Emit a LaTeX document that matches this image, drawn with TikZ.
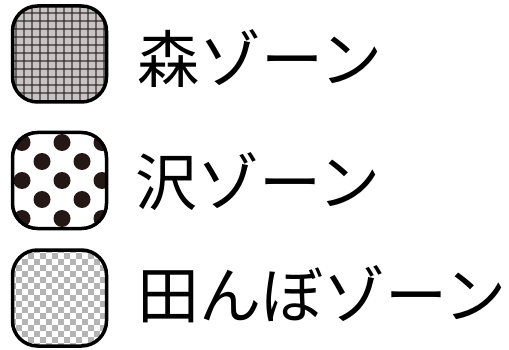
\documentclass[tikz,border=0pt]{standalone}
\usepackage{fontspec}
\newfontfamily\jp{Noto Sans CJK JP}
\definecolor{inkdark}{HTML}{231815}
\definecolor{plaidbg}{HTML}{C6C4C4}
\definecolor{checkgray}{HTML}{B4B4B4}
\begin{document}
\begin{tikzpicture}[x=1pt,y=-1pt,
  zonebox/.style={draw=black, line width=3.5pt, rounded corners=25pt,
    minimum width=94pt, minimum height=96pt, inner sep=0pt},
  zonelabel/.style={font=\jp\fontsize{62}{62}\selectfont, anchor=base west, inner sep=0pt}]
\useasboundingbox (0,0) rectangle (509,350);
% forest zone: plaid (path picture coordinates are relative to the node centre)
\node[zonebox, path picture={
    \fill[plaidbg, sharp corners] (-60,-60) rectangle (60,60);
    \foreach \k in {0,...,12} {
      \draw[inkdark, opacity=0.55, line width=1.8pt] (-43.5+8*\k,-60) -- (-43.5+8*\k,60);
      \draw[inkdark, opacity=0.55, line width=1.8pt] (-60,-41+8*\k) -- (60,-41+8*\k);
    }
  }] (forest) at (59.5,54) {};
% marsh zone: dots
\node[zonebox, fill=white, path picture={
    \foreach \j in {-2,...,2} {
      \ifodd\j
        \foreach \i in {-1,...,2} {\fill[inkdark] (-17.5+40*\i,19*\j) circle (8.5);}
      \else
        \foreach \i in {-1,...,1} {\fill[inkdark] (2.5+40*\i,19*\j) circle (8.5);}
      \fi
    }
  }] (marsh) at (59.5,180.5) {};
% rice field zone: checker
\node[zonebox, fill=white, path picture={
    \foreach \i in {0,2,...,16} {
      \foreach \j in {0,2,...,16} {
        \fill[checkgray, sharp corners] (-50+6*\i,-51+6*\j) rectangle (-44+6*\i,-45+6*\j);
        \fill[checkgray, sharp corners] (-44+6*\i,-45+6*\j) rectangle (-38+6*\i,-39+6*\j);
      }
    }
  }] (rice) at (59.5,298) {};
\node[zonelabel] (forestlabel) at (137,83) {森ゾーン};
\node[zonelabel] (marshlabel) at (135,206) {沢ゾーン};
\node[zonelabel] (ricelabel) at (137,318) {田んぼゾーン};
\end{tikzpicture}
\end{document}
